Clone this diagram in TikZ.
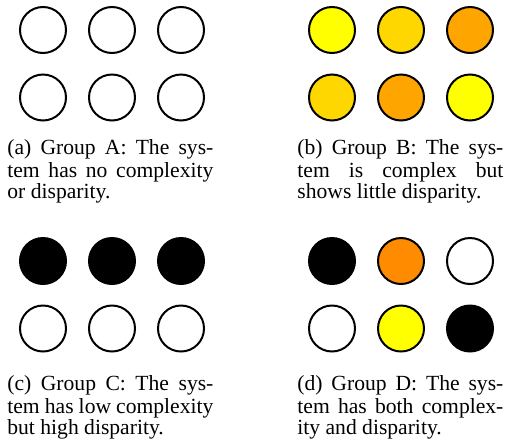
\documentclass[tikz,border=0pt]{standalone}
\usepackage{fontspec}
\setmainfont{Liberation Serif}
\usetikzlibrary{positioning}

\definecolor{ballyellow}{RGB}{255,255,0}
\definecolor{ballgold}{RGB}{255,215,0}
\definecolor{ballorange}{RGB}{255,165,0}
\definecolor{balldark}{RGB}{255,140,0}

\tikzset{
    ball/.style={draw, circle, line width=1pt, minimum size=23pt, inner sep=0pt, outer sep=0pt, fill=white},
    subcap/.style={anchor=north west, inner sep=0pt, text width=103pt, align=justify, font=\fontsize{10.8}{10.6}\selectfont},
}

\begin{document}
\begin{tikzpicture}[x=0.5pt, y=-0.5pt, node distance=10.75pt and 11.5pt]
    \useasboundingbox (0,0) rectangle (513,445);

    % (a) group A
    \node[ball] (a1) at (43,30) {};
    \node[ball] (a2) [right = of a1] {};
    \node[ball] (a3) [right = of a2] {};
    \node[ball] (a4) [below = of a1] {};
    \node[ball] (a5) [right = of a4] {};
    \node[ball] (a6) [right = of a5] {};
    \node[subcap] (capa) at (7,139) {\strut(a) Group A: The sys-\linebreak tem has no complexity\linebreak or disparity.};

    % (b) group B
    \node[ball, fill=ballyellow] (b1) at (332,30) {};
    \node[ball, fill=ballgold] (b2) [right = of b1] {};
    \node[ball, fill=ballorange] (b3) [right = of b2] {};
    \node[ball, fill=ballgold] (b4) [below = of b1] {};
    \node[ball, fill=ballorange] (b5) [right = of b4] {};
    \node[ball, fill=ballyellow] (b6) [right = of b5] {};
    \node[subcap] (capb) at (297,139) {\strut(b) Group B: The sys-\linebreak tem is complex but\linebreak shows little disparity.};

    % (c) group C
    \node[ball, fill=black] (c1) at (43,261) {};
    \node[ball, fill=black] (c2) [right = of c1] {};
    \node[ball, fill=black] (c3) [right = of c2] {};
    \node[ball] (c4) [below = of c1] {};
    \node[ball] (c5) [right = of c4] {};
    \node[ball] (c6) [right = of c5] {};
    \node[subcap] (capc) at (7,375) {\strut(c) Group C: The sys-\linebreak tem has low complexity\linebreak but high disparity.};

    % (d) group D
    \node[ball, fill=black] (d1) at (332,261) {};
    \node[ball, fill=balldark] (d2) [right = of d1] {};
    \node[ball] (d3) [right = of d2] {};
    \node[ball] (d4) [below = of d1] {};
    \node[ball, fill=ballyellow] (d5) [right = of d4] {};
    \node[ball, fill=black] (d6) [right = of d5] {};
    \node[subcap] (capd) at (297,375) {\strut(d) Group D: The sys-\linebreak tem has both complex-\linebreak ity and disparity.};
\end{tikzpicture}
\end{document}
